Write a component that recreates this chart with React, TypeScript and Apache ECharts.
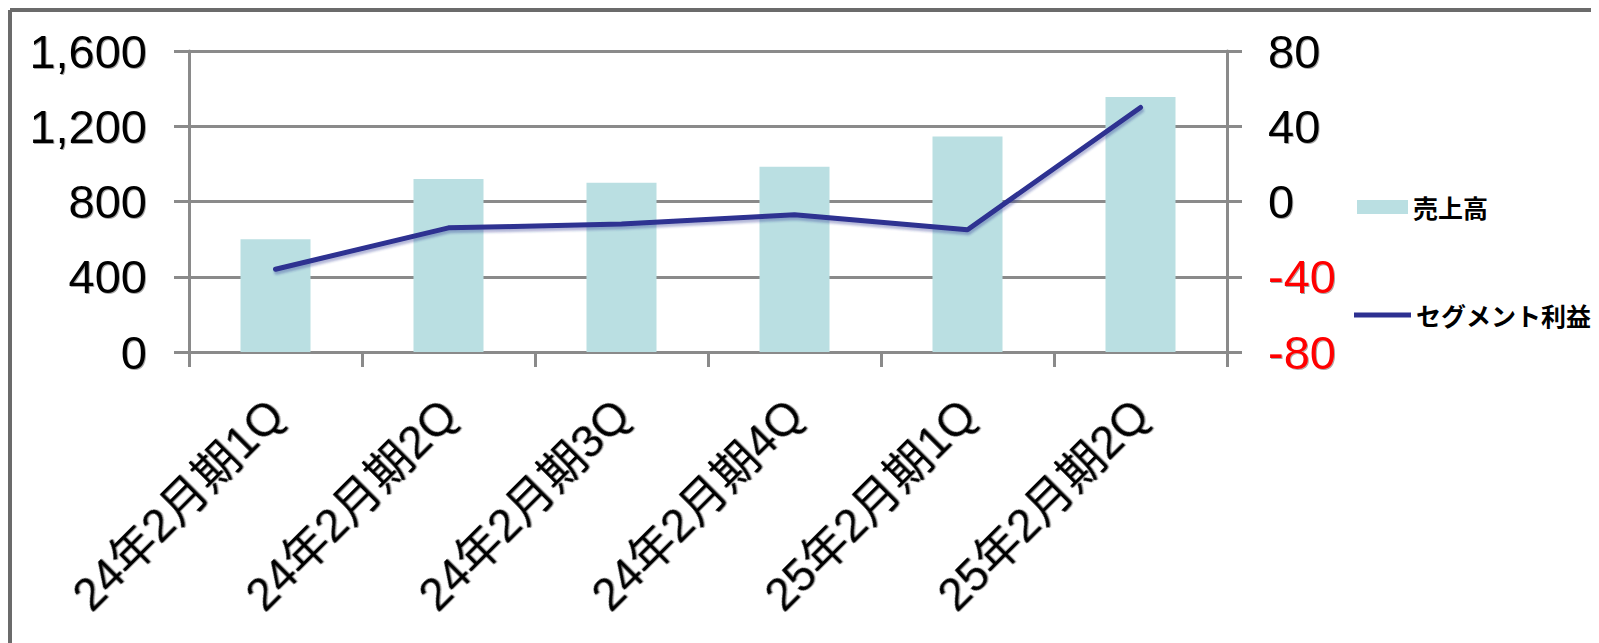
import React, { useEffect, useRef } from "react";
import * as echarts from "echarts";

const categories = ["24年2月期1Q", "24年2月期2Q", "24年2月期3Q", "24年2月期4Q", "25年2月期1Q", "25年2月期2Q"];
const salesValues = [600, 920, 900, 985, 1145, 1355];
const profitValues = [-36, -14, -12, -7, -15, 50];
const salesName = "売上高";
const profitName = "セグメント利益";

const FONT = "'Liberation Sans', Arial, 'Noto Sans CJK JP', sans-serif";
const GRAY = "#8a8a8a";

export default function App() {
  const ref = useRef<HTMLDivElement>(null);
  useEffect(() => {
    if (!ref.current) return;
    const chart = echarts.init(ref.current, null, { renderer: "svg" });
    const labelShadow = {
      textShadowColor: "rgba(0,0,0,0.35)",
      textShadowOffsetX: 1,
      textShadowOffsetY: 1,
      textShadowBlur: 1,
    };
    chart.setOption({
      animation: false,
      backgroundColor: "#ffffff",
      graphic: [
        { type: "line", shape: { x1: 2, y1: 2, x2: 1591, y2: 2 }, style: { stroke: "#6b6b6b", lineWidth: 4 } },
        { type: "line", shape: { x1: 2, y1: 2, x2: 2, y2: 635 }, style: { stroke: "#6b6b6b", lineWidth: 4 } },
      ],
      grid: { left: 181, right: 372, top: 43, bottom: 291, containLabel: false },
      legend: [
        {
          data: [salesName],
          left: 1344,
          top: 181,
          orient: "vertical",
          icon: "rect",
          itemWidth: 51,
          itemHeight: 14,
          textStyle: { fontFamily: "'Noto Sans CJK JP', sans-serif", fontSize: 25, fontWeight: "bold", color: "#000", lineHeight: 26 },
        },
        {
          data: [profitName],
          left: 1341,
          top: 289,
          orient: "vertical",
          icon: "rect",
          itemWidth: 57,
          itemHeight: 5,
          textStyle: { fontFamily: "'Noto Sans CJK JP', sans-serif", fontSize: 25, fontWeight: "bold", color: "#000", lineHeight: 26 },
        },
      ],
      xAxis: {
        type: "category",
        data: categories,
        boundaryGap: true,
        axisLine: { show: true, lineStyle: { color: GRAY, width: 3 } },
        axisTick: { show: true, length: 15, interval: 0, lineStyle: { color: GRAY, width: 3 } },
        axisLabel: {
          interval: 0,
          rotate: 45,
          margin: 55,
          fontSize: 46,
          fontFamily: FONT,
          color: "#000",
          ...labelShadow,
        },
      },
      yAxis: [
        {
          type: "value",
          min: 0,
          max: 1600,
          interval: 400,
          axisLine: { show: true, lineStyle: { color: GRAY, width: 3 } },
          axisTick: { show: true, length: 15, lineStyle: { color: GRAY, width: 3 } },
          splitLine: { show: true, lineStyle: { color: GRAY, width: 3 } },
          axisLabel: {
            margin: 42,
            fontSize: 47,
            fontFamily: FONT,
            color: "#000",
            formatter: (v: number) => v.toLocaleString("en-US"),
            ...labelShadow,
          },
        },
        {
          type: "value",
          min: -80,
          max: 80,
          interval: 40,
          position: "right",
          axisLine: { show: true, lineStyle: { color: GRAY, width: 3 } },
          axisTick: { show: true, length: 15, lineStyle: { color: GRAY, width: 3 } },
          splitLine: { show: false },
          axisLabel: {
            margin: 41,
            fontSize: 47,
            fontFamily: FONT,
            color: (v: any) => (Number(v) < 0 ? "#ff0000" : "#000000"),
            ...labelShadow,
          },
        },
      ],
      series: [
        {
          name: salesName,
          type: "bar",
          data: salesValues,
          yAxisIndex: 0,
          barWidth: 70,
          itemStyle: { color: "#badfe2" },
        },
        {
          name: profitName,
          type: "line",
          data: profitValues,
          yAxisIndex: 1,
          symbol: "none",
          showSymbol: false,
          itemStyle: { color: "#2d3091" },
          lineStyle: {
            color: "#2d3091",
            width: 5,
            cap: "round",
            shadowColor: "rgba(45,48,145,0.35)",
            shadowOffsetY: 3,
            shadowOffsetX: 1,
            shadowBlur: 2,
          },
          z: 5,
        },
      ],
    });
    return () => chart.dispose();
  }, []);
  return <div ref={ref} style={{ width: 1591, height: 635 }} />;
}
